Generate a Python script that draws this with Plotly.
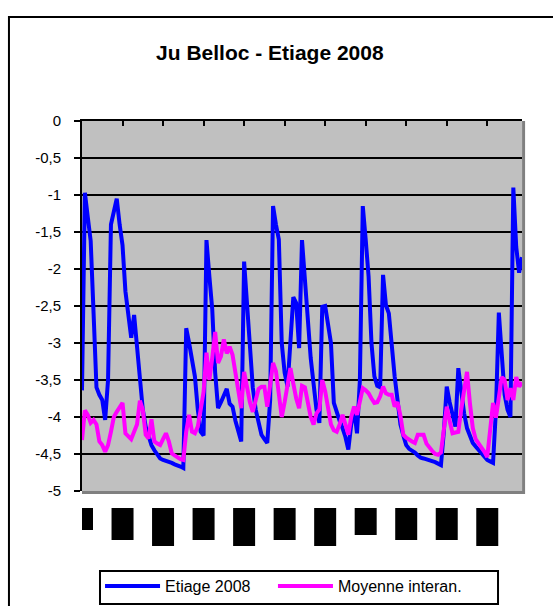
import pandas as pd
import plotly.graph_objects as go

# Daily water level (m) at Ju Belloc, 1 June - 31 October 2008
dates = pd.date_range("2008-06-01", "2008-10-31", freq="D")

etiage_2008 = [
    -3.64, -0.97, -1.3, -1.62, -2.6, -3.6, -3.7, -3.77, -4.04, -3.5,
    -1.4, -1.2, -1.05, -1.4, -1.68, -2.3, -2.6, -2.93, -2.62, -3.1,
    -3.54, -3.9, -4.13, -4.28, -4.38, -4.45, -4.5, -4.56, -4.58, -4.59,
    -4.6, -4.62, -4.64, -4.65, -4.67, -4.69, -2.8, -3.0, -3.25, -3.45,
    -3.9, -4.2, -4.25, -1.61, -2.1, -2.55, -3.4, -3.88, -3.8, -3.7,
    -3.62, -3.82, -3.86, -4.05, -4.2, -4.33, -1.9, -2.5, -3.2, -3.6,
    -3.9, -4.1, -4.24, -4.3, -4.35, -3.77, -1.15, -1.4, -1.6, -3.0,
    -3.4, -3.59, -2.87, -2.38, -2.46, -3.07, -1.61, -2.2, -2.7, -3.2,
    -3.55, -3.9, -4.08, -2.51, -2.5, -2.8, -3.0, -3.81, -3.95, -4.05,
    -4.15, -4.27, -4.44, -4.1, -3.9, -4.22, -3.5, -1.15, -1.6, -2.1,
    -3.0, -3.45, -3.58, -3.6, -2.08, -2.49, -2.6, -3.1, -3.45, -3.77,
    -4.1, -4.25, -4.38, -4.43, -4.45, -4.48, -4.52, -4.55, -4.56, -4.57,
    -4.58, -4.6, -4.61, -4.63, -4.65, -4.2, -3.59, -3.8, -4.0, -4.13,
    -3.34, -3.7, -3.95, -4.15, -4.25, -4.35, -4.4, -4.45, -4.49, -4.53,
    -4.58, -4.6, -4.62, -3.9, -2.59, -3.15, -3.7, -3.9, -4.0, -0.9,
    -1.7, -2.05, -1.84,
]

moyenne_interannuelle = [
    -4.31, -3.91, -3.97, -4.08, -4.04, -4.1, -4.33, -4.38, -4.47, -4.38,
    -4.2, -4.0, -3.93, -3.87, -3.81, -4.22, -4.27, -4.3, -4.2, -4.1,
    -3.78, -3.9, -4.24, -4.29, -4.03, -4.33, -4.36, -4.38, -4.3, -4.22,
    -4.33, -4.49, -4.52, -4.55, -4.57, -4.58, -4.2, -3.97, -4.2, -4.22,
    -4.13, -3.9, -3.66, -3.13, -3.5, -3.2, -2.85, -3.27, -3.18, -2.95,
    -3.14, -3.05, -3.16, -3.4, -3.65, -3.88, -3.39, -3.6, -3.8, -3.93,
    -3.75, -3.62, -3.59, -3.59, -3.86, -3.55, -3.27, -3.38, -3.7, -4.0,
    -3.8, -3.55, -3.34, -3.55, -3.75, -3.88, -3.58, -3.6, -3.84, -4.0,
    -4.1, -3.95, -3.9, -3.5, -3.65, -3.85, -4.1, -4.18, -4.2, -4.1,
    -3.97, -4.1, -4.24, -4.0, -3.86, -3.97, -3.8, -3.61, -3.64, -3.68,
    -3.75, -3.81, -3.8, -3.72, -3.59, -3.68, -3.7, -3.7, -3.86, -3.8,
    -3.98, -4.24, -4.28, -4.31, -4.33, -4.35, -4.24, -4.24, -4.24, -4.36,
    -4.42, -4.46, -4.5, -4.51, -4.48, -4.2, -3.86, -4.05, -4.22, -4.21,
    -4.2, -3.9, -3.6, -3.39, -3.81, -4.15, -4.3, -4.35, -4.4, -4.47,
    -4.54, -4.2, -3.81, -4.01, -3.7, -3.46, -3.5, -3.77, -3.61, -3.77,
    -3.46, -3.59, -3.53,
]

y_ticks = [0, -0.5, -1, -1.5, -2, -2.5, -3, -3.5, -4, -4.5, -5]
y_tick_labels = ["0", "-0,5", "-1", "-1,5", "-2", "-2,5", "-3", "-3,5", "-4", "-4,5", "-5"]

# Category labels every two weeks (drawn as solid blocks under the axis)
label_dates = pd.date_range("2008-06-01", "2008-10-31", freq="14D")
label_block_heights = [22, 32, 38, 32, 38, 32, 38, 27, 32, 32, 38]

FONT = "Liberation Sans, Arial, sans-serif"

fig = go.Figure()
fig.add_trace(go.Scatter(
    x=dates, y=etiage_2008, mode="lines", name="Etiage 2008",
    line=dict(color="#0000FF", width=4), legend="legend",
))
fig.add_trace(go.Scatter(
    x=dates, y=moyenne_interannuelle, mode="lines", name="Moyenne interan.",
    line=dict(color="#FF00FF", width=4), legend="legend2",
))

shapes = []
# chart frame
shapes.append(dict(type="rect", xref="paper", yref="paper",
                   x0=-0.166, x1=1.4, y0=-0.5, y1=1.281,
                   line=dict(color="black", width=2), fillcolor="rgba(0,0,0,0)",
                   layer="above"))
# plot-area shadow on the right and bottom edges
shapes.append(dict(type="line", xref="paper", yref="paper",
                   x0=1.0036, x1=1.0036, y0=-0.008, y1=1.0,
                   line=dict(color="#808080", width=3), layer="above"))
shapes.append(dict(type="line", xref="paper", yref="paper",
                   x0=0.0, x1=1.0036, y0=-0.004, y1=-0.004,
                   line=dict(color="#808080", width=3), layer="above"))
# legend frame
shapes.append(dict(type="rect", xref="paper", yref="paper",
                   x0=0.0409, x1=0.9455, y0=-0.3054, y1=-0.2162,
                   line=dict(color="black", width=2), fillcolor="rgba(0,0,0,0)",
                   layer="above"))
# tick label blocks
for d, h in zip(label_dates, label_block_heights):
    shapes.append(dict(type="rect", xref="x", yref="paper",
                       xsizemode="pixel", ysizemode="pixel",
                       xanchor=d.strftime("%Y-%m-%d"), yanchor=0,
                       x0=-11, x1=11, y0=-17, y1=-17 - h,
                       fillcolor="black", line=dict(width=0), layer="above"))

legend_style = dict(
    orientation="h", y=-0.211, xanchor="left", yanchor="top",
    borderwidth=0, bgcolor="rgba(0,0,0,0)",
    font=dict(size=16, family=FONT), itemwidth=55,
)

fig.update_layout(
    width=553, height=606,
    margin=dict(l=82, r=31, t=121, b=115, autoexpand=False),
    paper_bgcolor="white",
    plot_bgcolor="#C0C0C0",
    font=dict(family=FONT, color="black", size=14),
    title=dict(text="<b>Ju Belloc - Etiage 2008</b>", x=0.488, xanchor="center",
               y=0.9125, yanchor="middle", font=dict(size=21, family=FONT)),
    xaxis=dict(
        type="date", range=["2008-06-01", "2008-10-31"],
        side="top", showgrid=False, zeroline=False,
        showline=True, linecolor="black", linewidth=2,
        ticks="inside", ticklen=5, tickwidth=2, tickcolor="black",
        tick0="2008-06-01", dtick=14 * 86400000, showticklabels=False,
    ),
    yaxis=dict(
        range=[-5, 0], tickvals=y_ticks, ticktext=y_tick_labels,
        showgrid=True, gridcolor="black", gridwidth=2, zeroline=False,
        showline=True, linecolor="black", linewidth=2,
        ticks="outside", ticklen=6, tickwidth=2, tickcolor="black",
        tickfont=dict(size=15, family=FONT), ticklabelstandoff=10,
    ),
    legend=dict(x=0.041, **legend_style),
    legend2=dict(x=0.434, **legend_style),
    shapes=shapes,
    showlegend=True,
)

fig.write_html("out.html")
